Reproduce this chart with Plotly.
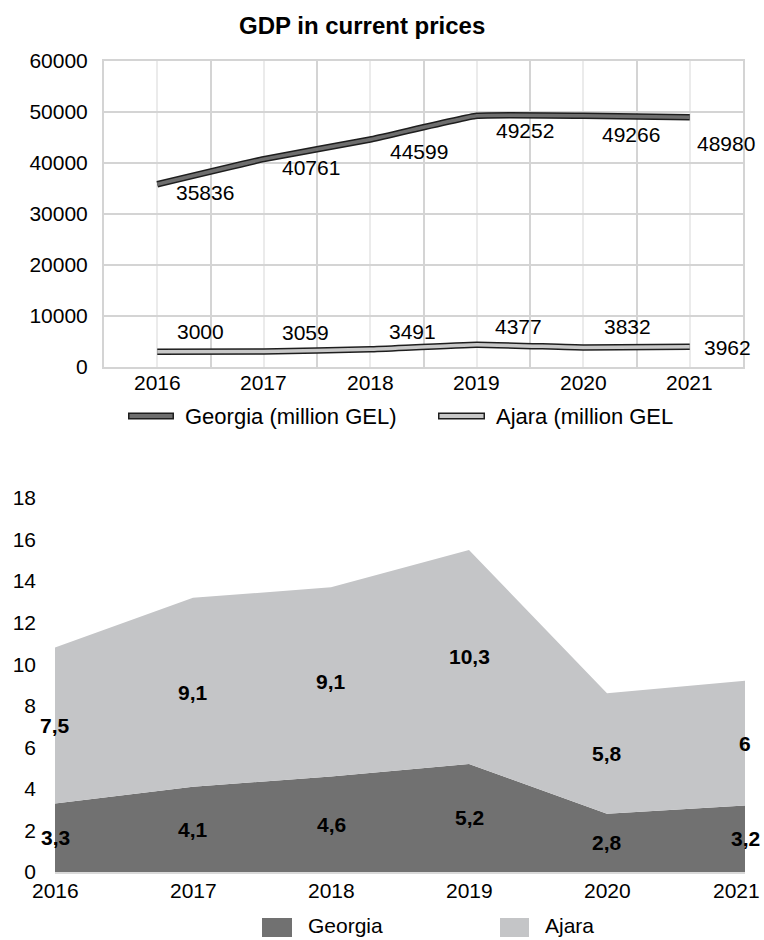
import plotly.graph_objects as go

# ---------------- data ----------------
years = [2016, 2017, 2018, 2019, 2020, 2021]
georgia_gdp = [35836, 40761, 44599, 49252, 49266, 48980]
ajara_gdp = [3000, 3059, 3491, 4377, 3832, 3962]

georgia_share = [3.3, 4.1, 4.6, 5.2, 2.8, 3.2]
ajara_share = [7.5, 9.1, 9.1, 10.3, 5.8, 6.0]

title_top = "GDP in current prices"
legend_top = ["Georgia (million GEL)", "Ajara (million GEL"]
legend_bottom = ["Georgia", "Ajara"]

# ---------------- style ----------------
W, H = 764, 940
FONT = "Liberation Sans, Arial, sans-serif"
GEO_LINE = "#6e6e6e"
AJ_LINE = "#c8c8c8"
OUTLINE = "#1e1e1e"
GEO_AREA = "#717171"
AJ_AREA = "#c4c5c7"
GRID_DARK = "#d4d4d4"
GRID_LIGHT = "#ebebeb"

# label offsets in pixels (dx right, dy down) for the top chart labels
geo_off = [(48, 8), (47, 8), (49, 12), (48, 15), (48, 19), (36, 26)]
aj_off = [(43, -20), (42, -19), (42, -18), (42, -18), (44, -21), (38, 1)]


def px(x):
    return x / W


def py(y):
    return 1 - y / H


fig = go.Figure()

# top chart: outlined lines
for vals, inner in ((georgia_gdp, GEO_LINE), (ajara_gdp, AJ_LINE)):
    fig.add_trace(go.Scatter(x=years, y=vals, mode="lines",
                             line=dict(color=OUTLINE, width=6.5, shape="spline", smoothing=0.3),
                             showlegend=False, hoverinfo="skip", xaxis="x", yaxis="y"))
    fig.add_trace(go.Scatter(x=years, y=vals, mode="lines",
                             line=dict(color=inner, width=3.5, shape="spline", smoothing=0.3),
                             showlegend=False, xaxis="x", yaxis="y"))

# bottom chart: stacked areas
fig.add_trace(go.Scatter(x=years, y=georgia_share, mode="none", stackgroup="s",
                         fillcolor=GEO_AREA, name=legend_bottom[0], showlegend=False,
                         xaxis="x2", yaxis="y2"))
fig.add_trace(go.Scatter(x=years, y=ajara_share, mode="none", stackgroup="s",
                         fillcolor=AJ_AREA, name=legend_bottom[1], showlegend=False,
                         xaxis="x2", yaxis="y2"))

ann = []
lab_font = dict(family=FONT, size=21, color="#000")
for yr, v, (dx, dy) in zip(years, georgia_gdp, geo_off):
    ann.append(dict(x=yr, y=v, xref="x", yref="y", text=str(v), showarrow=False,
                    xshift=dx, yshift=-dy, font=lab_font))
for yr, v, (dx, dy) in zip(years, ajara_gdp, aj_off):
    ann.append(dict(x=yr, y=v, xref="x", yref="y", text=str(v), showarrow=False,
                    xshift=dx, yshift=-dy, font=lab_font))

# top x tick labels (placed just under the plot as in the reference)
for yr in years:
    ann.append(dict(x=yr, y=py(382), xref="x", yref="paper", text=str(yr), showarrow=False,
                    xanchor="center", yanchor="middle", font=lab_font))

# bottom x tick labels (last one kept inside the page)
for yr in years:
    last = yr == years[-1]
    ann.append(dict(x=yr, y=py(890), xref="x2", yref="paper", text=str(yr), showarrow=False,
                    xanchor="right" if last else "center", xshift=17 if last else 0,
                    yanchor="middle", font=lab_font))


def fmt(v):
    return ("%g" % v).replace(".", ",")


bold_font = dict(family=FONT, size=21, color="#000")
for yr, g, a in zip(years, georgia_share, ajara_share):
    ann.append(dict(x=yr, y=g / 2, xref="x2", yref="y2", text="<b>%s</b>" % fmt(g),
                    showarrow=False, font=bold_font))
    ann.append(dict(x=yr, y=g + a / 2, xref="x2", yref="y2", text="<b>%s</b>" % fmt(a),
                    showarrow=False, font=bold_font))

# title
ann.append(dict(x=px(362), y=py(26), xref="paper", yref="paper", text="<b>%s</b>" % title_top,
                showarrow=False, font=dict(family=FONT, size=24, color="#000"),
                xanchor="center", yanchor="middle"))

# top legend (manual)
shapes = []
leg_y = 416
for (x0, x1, tx), inner, txt in (((128, 174, 183), GEO_LINE, legend_top[0]),
                                 ((438, 485, 494), AJ_LINE, legend_top[1])):
    shapes.append(dict(type="line", xref="paper", yref="paper", x0=px(x0), x1=px(x1),
                       y0=py(leg_y), y1=py(leg_y), line=dict(color=OUTLINE, width=7)))
    shapes.append(dict(type="line", xref="paper", yref="paper", x0=px(x0 + 1.5), x1=px(x1 - 1.5),
                       y0=py(leg_y), y1=py(leg_y), line=dict(color=inner, width=4)))
    ann.append(dict(x=px(tx), y=py(leg_y), xref="paper", yref="paper", text=txt,
                    showarrow=False, xanchor="left", yanchor="middle",
                    font=dict(family=FONT, size=22, color="#000")))

# bottom legend (manual)
for (x0, x1, tx), col, txt in (((262, 292, 306), GEO_AREA, legend_bottom[0]),
                               ((500, 529, 543), AJ_AREA, legend_bottom[1])):
    shapes.append(dict(type="rect", xref="paper", yref="paper", x0=px(x0), x1=px(x1),
                       y0=py(937), y1=py(918), fillcolor=col, line=dict(width=0)))
    ann.append(dict(x=px(tx), y=py(925), xref="paper", yref="paper", text=txt,
                    showarrow=False, xanchor="left", yanchor="middle",
                    font=dict(family=FONT, size=21, color="#000")))

tick_font = dict(family=FONT, size=21, color="#000")
fig.update_layout(
    width=W, height=H, margin=dict(l=0, r=0, t=0, b=0, autoexpand=False),
    paper_bgcolor="white", plot_bgcolor="white",
    showlegend=False,
    xaxis=dict(domain=[px(104), px(743)], range=[2015.5, 2021.5], tickvals=years,
               showticklabels=False, showgrid=True, gridcolor=GRID_LIGHT,
               gridwidth=2, minor=dict(tick0=2015.5, dtick=1, showgrid=True,
                                       gridcolor=GRID_DARK, gridwidth=2),
               showline=True, linecolor=GRID_DARK, linewidth=2, mirror=True,
               zeroline=False, ticks="", automargin=False,
               anchor="y", fixedrange=True),
    yaxis=dict(domain=[py(367), py(61)], range=[0, 60000], dtick=10000, tickformat="d",
               showgrid=True, gridcolor=GRID_DARK, gridwidth=2,
               showline=True, linecolor=GRID_DARK, linewidth=2, mirror=True,
               zeroline=False, ticks="", tickfont=tick_font, ticklabelstandoff=10,
               automargin=False, anchor="x", fixedrange=True),
    xaxis2=dict(domain=[px(55), px(745)], range=[2016, 2021], tickvals=years,
                showticklabels=False, showgrid=False, zeroline=False,
                showline=True, linecolor="#d9d9d9", linewidth=2,
                ticks="", automargin=False, anchor="y2", fixedrange=True),
    yaxis2=dict(domain=[py(872), py(498)], range=[0, 18], dtick=2,
                showgrid=False, zeroline=False, showline=False, ticks="",
                tickfont=tick_font, ticklabelstandoff=18, automargin=False,
                anchor="x2", fixedrange=True),
    annotations=ann, shapes=shapes,
)

fig.write_html("out.html")
